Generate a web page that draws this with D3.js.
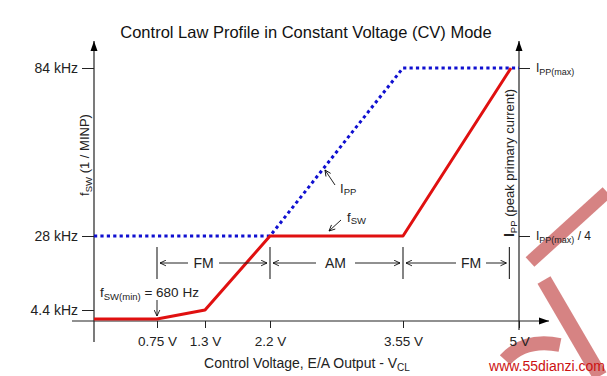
<!DOCTYPE html>
<html><head><meta charset="utf-8">
<script src="https://cdn.jsdelivr.net/npm/d3@7"></script>
<style>
body{margin:0;background:#fff;}
svg{display:block;font-family:"Liberation Sans",Arial,sans-serif;}
</style></head><body>
<div id="chart"></div>
<script>
// ---- data ----
const xTickValues = [0.75, 1.3, 2.2, 3.55, 5];
const xTickLabels = ["0.75 V", "1.3 V", "2.2 V", "3.55 V", "5 V"];
const yTickValues = [4.4, 28, 84];
const yTickLabels = ["4.4 kHz", "28 kHz", "84 kHz"];
const rTickValues = [0.25, 1];
const rTickSuffix = [" / 4", ""];
// f_SW (kHz) vs control voltage (V)
const fswV = [0, 0.75, 1.3, 2.2, 3.55, 4.9];
const fswKHz = [0.68, 0.68, 4.4, 28, 28, 84];
// I_PP (fraction of I_PP(max)) vs control voltage
const ippV = [0, 2.2, 3.55, 5];
const ippFrac = [0.25, 0.25, 1, 1];
// mode regions
const modeBounds = [0.75, 2.2, 3.55, 4.88];
const modeLabels = ["FM", "AM", "FM"];

const W = 607, H = 376;
const svg = d3.select("#chart").append("svg").attr("width", W).attr("height", H);

// schematic (piecewise) scales
const x = d3.scaleLinear().domain([0, 0.75, 1.3, 2.2, 3.55, 5]).range([94, 157, 205, 270, 403, 519]);
const y = d3.scaleLinear().domain([0.68, 4.4, 28, 84]).range([319, 310, 236, 68]);
const yr = d3.scaleLinear().domain([0.25, 1]).range([236, 68]);

const defs = svg.append("defs");
defs.append("marker").attr("id", "solid").attr("viewBox", "0 0 10 10").attr("refX", 10).attr("refY", 5)
  .attr("markerWidth", 10).attr("markerHeight", 10).attr("markerUnits", "userSpaceOnUse").attr("orient", "auto")
  .append("path").attr("d", "M0,1.5L10,5L0,8.5Z").attr("fill", "#000");
defs.append("marker").attr("id", "open").attr("viewBox", "0 0 10 10").attr("refX", 9.5).attr("refY", 5)
  .attr("markerWidth", 7).attr("markerHeight", 7).attr("markerUnits", "userSpaceOnUse").attr("orient", "auto")
  .append("path").attr("d", "M1,1L9.5,5L1,9").attr("fill", "none").attr("stroke", "#000").attr("stroke-width", 1.2);

// watermark shapes
const wm = svg.append("g").attr("stroke", "#c85a5a").attr("stroke-opacity", 0.75).attr("fill", "none").attr("stroke-linecap", "butt");
wm.append("line").attr("x1", 607).attr("y1", 192).attr("x2", 530).attr("y2", 262).attr("stroke-width", 13);
wm.append("line").attr("x1", 544).attr("y1", 280).attr("x2", 600).attr("y2", 376).attr("stroke-width", 15);
wm.append("path").attr("d", "M505,360 Q525,338 560,345").attr("stroke-width", 14);

// title
svg.append("text").attr("x", 306).attr("y", 38).attr("text-anchor", "middle")
  .attr("font-size", 16.5).attr("fill", "#111").text("Control Law Profile in Constant Voltage (CV) Mode");

// axes lines with arrows
svg.append("line").attr("x1", x(0)).attr("y1", 342).attr("x2", x(0)).attr("y2", 41)
  .attr("stroke", "#222").attr("stroke-width", 1.2).attr("marker-end", "url(#solid)");
svg.append("line").attr("x1", x(5)).attr("y1", 330).attr("x2", x(5)).attr("y2", 41)
  .attr("stroke", "#222").attr("stroke-width", 1.2).attr("marker-end", "url(#solid)");
svg.append("line").attr("x1", 72).attr("y1", 321).attr("x2", 549).attr("y2", 321)
  .attr("stroke", "#222").attr("stroke-width", 1.2).attr("marker-end", "url(#solid)");

// x axis ticks
const xAxis = svg.append("g").attr("transform", "translate(0,321)")
  .call(d3.axisBottom(x).tickValues(xTickValues).tickSize(7).tickPadding(8)
    .tickFormat((d, i) => xTickLabels[i]));
xAxis.select(".domain").remove();
xAxis.selectAll("line").attr("stroke", "#222");
xAxis.selectAll("text").attr("font-size", 13.5).attr("fill", "#222").attr("font-family", "Liberation Sans, Arial, sans-serif");

// left y axis
const yAxis = svg.append("g").attr("transform", `translate(${x(0)},0)`)
  .call(d3.axisLeft(y).tickValues(yTickValues).tickSize(12).tickPadding(4)
    .tickFormat((d, i) => yTickLabels[i]));
yAxis.select(".domain").remove();
yAxis.selectAll("line").attr("stroke", "#222");
yAxis.selectAll("text").attr("font-size", 14).attr("fill", "#222").attr("font-family", "Liberation Sans, Arial, sans-serif");

// right y axis
const rAxis = svg.append("g").attr("transform", `translate(${x(5)},0)`)
  .call(d3.axisRight(yr).tickValues(rTickValues).tickSize(11).tickPadding(6).tickFormat(() => ""));
rAxis.select(".domain").remove();
rAxis.selectAll("line").attr("stroke", "#222");
rAxis.selectAll("text").each(function(d) {
  const t = d3.select(this).attr("font-size", 12).attr("fill", "#222").attr("font-family", "Liberation Sans, Arial, sans-serif");
  const i = rTickValues.indexOf(d);
  t.append("tspan").text("I");
  t.append("tspan").attr("font-size", 9).attr("dy", 3).text("PP(max)");
  t.append("tspan").attr("dy", -3).text(rTickSuffix[i]);
});

// axis titles
const lt = svg.append("text").attr("transform", "translate(89,155) rotate(-90)").attr("text-anchor", "middle")
  .attr("font-size", 13).attr("fill", "#222");
lt.append("tspan").text("f");
lt.append("tspan").attr("font-size", 9.5).attr("dy", 3).text("SW");
lt.append("tspan").attr("dy", -3).text(" (1 / MINP)");

const rt = svg.append("text").attr("transform", "translate(514,163) rotate(-90)").attr("text-anchor", "middle")
  .attr("font-size", 13).attr("fill", "#222");
rt.append("tspan").attr("font-weight", "bold").attr("font-size", 14).text("I");
rt.append("tspan").attr("font-size", 9.5).attr("dy", 3).text("PP");
rt.append("tspan").attr("dy", -3).text(" (peak primary current)");

const xt = svg.append("text").attr("x", 307).attr("y", 368).attr("text-anchor", "middle")
  .attr("font-size", 14).attr("fill", "#222");
xt.append("tspan").text("Control Voltage, E/A Output - V");
xt.append("tspan").attr("font-size", 10).attr("dy", 3).text("CL");

// series
const fswData = fswV.map((v, i) => [v, fswKHz[i]]);
const ippData = ippV.map((v, i) => [v, ippFrac[i]]);

svg.append("path").datum(ippData)
  .attr("d", d3.line().x(d => x(d[0])).y(d => yr(d[1])))
  .attr("fill", "none").attr("stroke", "#1010d0").attr("stroke-width", 3)
  .attr("stroke-dasharray", "3.2,3.2");

svg.append("path").datum(fswData)
  .attr("d", d3.line().x(d => x(d[0])).y(d => y(d[1])))
  .attr("fill", "none").attr("stroke", "#e01010").attr("stroke-width", 3).attr("stroke-linejoin", "round");

// mode region markers
const ymode = 263;
modeBounds.forEach(v => {
  svg.append("line").attr("x1", x(v)).attr("x2", x(v)).attr("y1", 247).attr("y2", 279)
    .attr("stroke", "#333").attr("stroke-width", 1.2);
});
const labelPos = [[190, 217], [318, 353], [458, 484]];
modeLabels.forEach((lab, i) => {
  const a = x(modeBounds[i]), b = x(modeBounds[i + 1]);
  const [l0, l1] = labelPos[i];
  svg.append("text").attr("x", (l0 + l1) / 2).attr("y", ymode + 5).attr("text-anchor", "middle")
    .attr("font-size", 14).attr("fill", "#222").text(lab);
  svg.append("line").attr("x1", l0 - 2).attr("y1", ymode).attr("x2", a + 3).attr("y2", ymode)
    .attr("stroke", "#222").attr("stroke-width", 1).attr("marker-end", "url(#open)");
  svg.append("line").attr("x1", l1 + 2).attr("y1", ymode).attr("x2", b - 3).attr("y2", ymode)
    .attr("stroke", "#222").attr("stroke-width", 1).attr("marker-end", "url(#open)");
});

// fsw(min) annotation
const fm = svg.append("text").attr("x", 100).attr("y", 297).attr("font-size", 13.5).attr("fill", "#222");
fm.append("tspan").text("f");
fm.append("tspan").attr("font-size", 9.5).attr("dy", 3).text("SW(min)");
fm.append("tspan").attr("dy", -3).text(" = 680 Hz");
svg.append("line").attr("x1", x(0.75)).attr("y1", 300).attr("x2", x(0.75)).attr("y2", 316)
  .attr("stroke", "#222").attr("stroke-width", 1).attr("marker-end", "url(#open)");

// series callouts
const ipl = svg.append("text").attr("x", 340).attr("y", 193).attr("font-size", 13).attr("fill", "#222");
ipl.append("tspan").text("I");
ipl.append("tspan").attr("font-size", 9.5).attr("dy", 2).text("PP");
svg.append("line").attr("x1", 335).attr("y1", 185).attr("x2", 325).attr("y2", 170)
  .attr("stroke", "#222").attr("stroke-width", 1).attr("marker-end", "url(#open)");

const fsl = svg.append("text").attr("x", 347).attr("y", 222).attr("font-size", 13).attr("fill", "#222");
fsl.append("tspan").text("f");
fsl.append("tspan").attr("font-size", 9.5).attr("dy", 2).text("SW");
svg.append("line").attr("x1", 341).attr("y1", 220).attr("x2", 329).attr("y2", 231)
  .attr("stroke", "#222").attr("stroke-width", 1).attr("marker-end", "url(#open)");

// watermark text
svg.append("text").attr("x", 605).attr("y", 371).attr("text-anchor", "end")
  .attr("font-size", 14).attr("fill", "#cc1111").text("www.55dianzi.com");
</script>
</body></html>
